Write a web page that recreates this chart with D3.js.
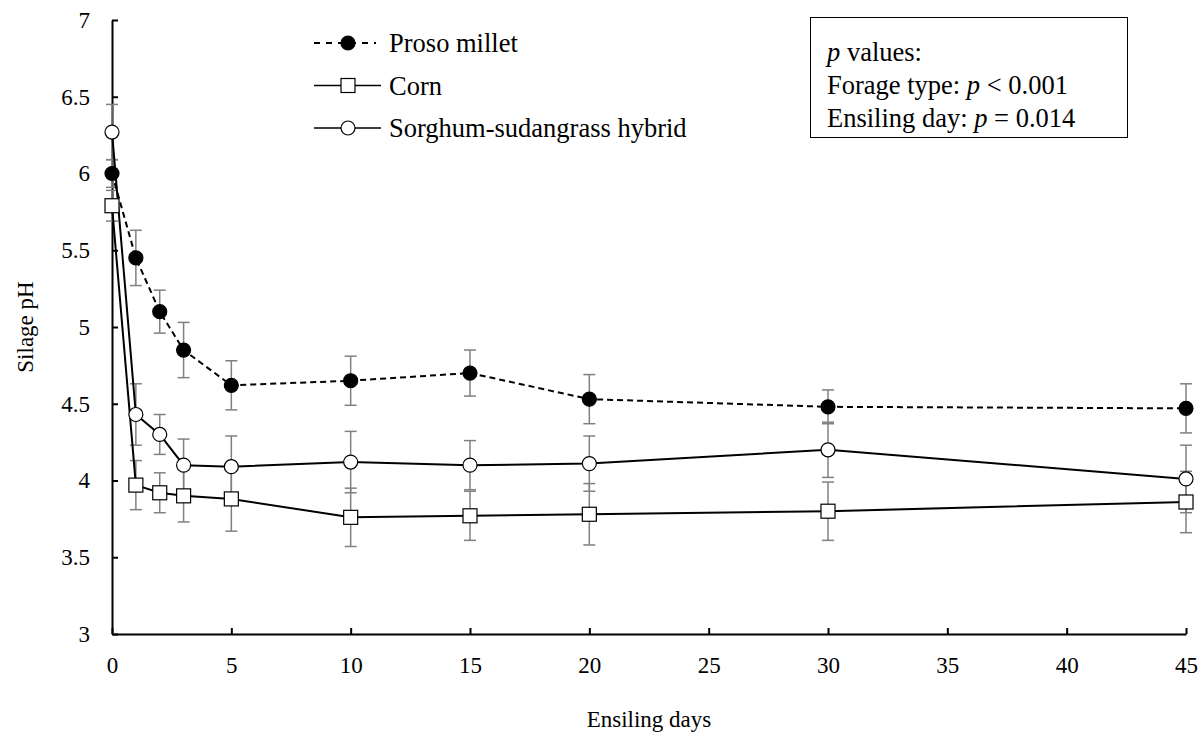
<!DOCTYPE html>
<html>
<head>
<meta charset="utf-8">
<script src="https://cdn.jsdelivr.net/npm/d3@7"></script>
<style>
  body { margin: 0; background: #fff; }
  text { font-family: "Liberation Serif", "Times New Roman", serif; }
</style>
</head>
<body>
<script>
// ensiling days and mean silage pH (with error bar half-widths)
var days = [0, 1, 2, 3, 5, 10, 15, 20, 30, 45];
var proso = [6.00, 5.45, 5.10, 4.85, 4.62, 4.65, 4.70, 4.53, 4.48, 4.47];
var prosoErr = [0.09, 0.18, 0.14, 0.18, 0.16, 0.16, 0.15, 0.16, 0.11, 0.16];
var corn = [5.79, 3.97, 3.92, 3.90, 3.88, 3.76, 3.77, 3.78, 3.80, 3.86];
var cornErr = [0.10, 0.16, 0.13, 0.17, 0.21, 0.19, 0.16, 0.20, 0.19, 0.20];
var sorghum = [6.27, 4.43, 4.30, 4.10, 4.09, 4.12, 4.10, 4.11, 4.20, 4.01];
var sorghumErr = [0.18, 0.20, 0.13, 0.17, 0.20, 0.20, 0.16, 0.18, 0.18, 0.22];
var seriesNames = ["Proso millet", "Corn", "Sorghum-sudangrass hybrid"];
var xTicks = [0, 5, 10, 15, 20, 25, 30, 35, 40, 45];
var yTicks = [3, 3.5, 4, 4.5, 5, 5.5, 6, 6.5, 7];
var pLines = ["values:", "Forage type: ", "Ensiling day: "];

var W = 1202, H = 738;
var margin = {left: 112, top: 20, right: 16, bottom: 104};

var svg = d3.select("body").append("svg")
            .attr("width", W)
            .attr("height", H);

var x = d3.scaleLinear().domain([0, 45]).range([margin.left, W - margin.right]);
var y = d3.scaleLinear().domain([3, 7]).range([H - margin.bottom, margin.top]);

function build(vals, errs) {
  var out = [];
  for (var i = 0; i < days.length; i++) {
    out.push({d: days[i], v: vals[i], e: errs[i]});
  }
  return out;
}
var series = [
  {name: seriesNames[0], data: build(proso, prosoErr), shape: "circle", fill: "#000", dash: "6,4"},
  {name: seriesNames[1], data: build(corn, cornErr), shape: "square", fill: "#fff", dash: null},
  {name: seriesNames[2], data: build(sorghum, sorghumErr), shape: "circle", fill: "#fff", dash: null}
];

// axes
var xAxis = d3.axisBottom(x).tickValues(xTicks).tickSize(-6).tickSizeOuter(0).tickPadding(23);
var yAxis = d3.axisLeft(y).tickValues(yTicks).tickSize(-6).tickSizeOuter(0).tickPadding(22)
              .tickFormat(function(d) { return d; });

var gx = svg.append("g").attr("transform", "translate(0," + y(3) + ")").call(xAxis);
var gy = svg.append("g").attr("transform", "translate(" + x(0) + ",0)").call(yAxis);
[gx, gy].forEach(function(g) {
  g.select(".domain").attr("stroke", "#000").attr("stroke-width", 2);
  g.selectAll(".tick line").attr("stroke", "#000").attr("stroke-width", 2);
  g.selectAll(".tick text").attr("font-size", "23px").attr("fill", "#000");
});

svg.append("text")
   .attr("x", (x(0) + x(45)) / 2)
   .attr("y", 727)
   .attr("text-anchor", "middle")
   .attr("font-size", "23px")
   .text("Ensiling days");

svg.append("text")
   .attr("transform", "translate(33," + y(5) + ") rotate(-90)")
   .attr("text-anchor", "middle")
   .attr("font-size", "23px")
   .text("Silage pH");

// error bars (behind everything)
var capW = 6;
series.forEach(function(s) {
  var eb = svg.append("g").attr("stroke", "#808080").attr("stroke-width", 1.5);
  s.data.forEach(function(p) {
    eb.append("line").attr("x1", x(p.d)).attr("x2", x(p.d))
      .attr("y1", y(p.v - p.e)).attr("y2", y(p.v + p.e));
    eb.append("line").attr("x1", x(p.d) - capW).attr("x2", x(p.d) + capW)
      .attr("y1", y(p.v + p.e)).attr("y2", y(p.v + p.e));
    eb.append("line").attr("x1", x(p.d) - capW).attr("x2", x(p.d) + capW)
      .attr("y1", y(p.v - p.e)).attr("y2", y(p.v - p.e));
  });
});

// lines
var line = d3.line().x(function(p) { return x(p.d); }).y(function(p) { return y(p.v); });
series.forEach(function(s) {
  svg.append("path")
     .datum(s.data)
     .attr("d", line)
     .attr("fill", "none")
     .attr("stroke", "#000")
     .attr("stroke-width", 2)
     .attr("stroke-dasharray", s.dash);
});

// markers
function marker(g, shape, fill, cx, cy) {
  if (shape === "square") {
    g.append("rect").attr("x", cx - 7).attr("y", cy - 7).attr("width", 14).attr("height", 14)
     .attr("fill", fill).attr("stroke", "#000").attr("stroke-width", 1.2);
  } else {
    g.append("circle").attr("cx", cx).attr("cy", cy).attr("r", 7)
     .attr("fill", fill).attr("stroke", "#000").attr("stroke-width", 1.2);
  }
}
series.forEach(function(s) {
  var g = svg.append("g");
  s.data.forEach(function(p) { marker(g, s.shape, s.fill, x(p.d), y(p.v)); });
});

// legend
var lg = svg.append("g");
series.forEach(function(s, i) {
  var ly = 43 + i * 42.5;
  lg.append("line").attr("x1", 314).attr("x2", s.dash ? 376 : 381).attr("y1", ly).attr("y2", ly)
    .attr("stroke", "#000").attr("stroke-width", s.dash ? 2 : 1.5)
    .attr("stroke-dasharray", s.dash ? "6,6" : null);
  marker(lg, s.shape, s.fill, 348, ly);
  lg.append("text").attr("x", 389).attr("y", ly + 9).attr("font-size", "26.5px").text(s.name);
});

// p value box
svg.append("rect").attr("x", 810.5).attr("y", 17.5).attr("width", 317).attr("height", 120)
   .attr("fill", "#fff").attr("stroke", "#000").attr("stroke-width", 1);
var pt = svg.append("g").attr("font-size", "26.5px");
var t0 = pt.append("text").attr("x", 827).attr("y", 61);
t0.append("tspan").attr("font-style", "italic").text("p");
t0.append("tspan").text(" " + pLines[0]);
var t1 = pt.append("text").attr("x", 827).attr("y", 94);
t1.append("tspan").text(pLines[1]);
t1.append("tspan").attr("font-style", "italic").text("p");
t1.append("tspan").text(" < 0.001");
var t2 = pt.append("text").attr("x", 827).attr("y", 127);
t2.append("tspan").text(pLines[2]);
t2.append("tspan").attr("font-style", "italic").text("p");
t2.append("tspan").text(" = 0.014");
</script>
</body>
</html>
